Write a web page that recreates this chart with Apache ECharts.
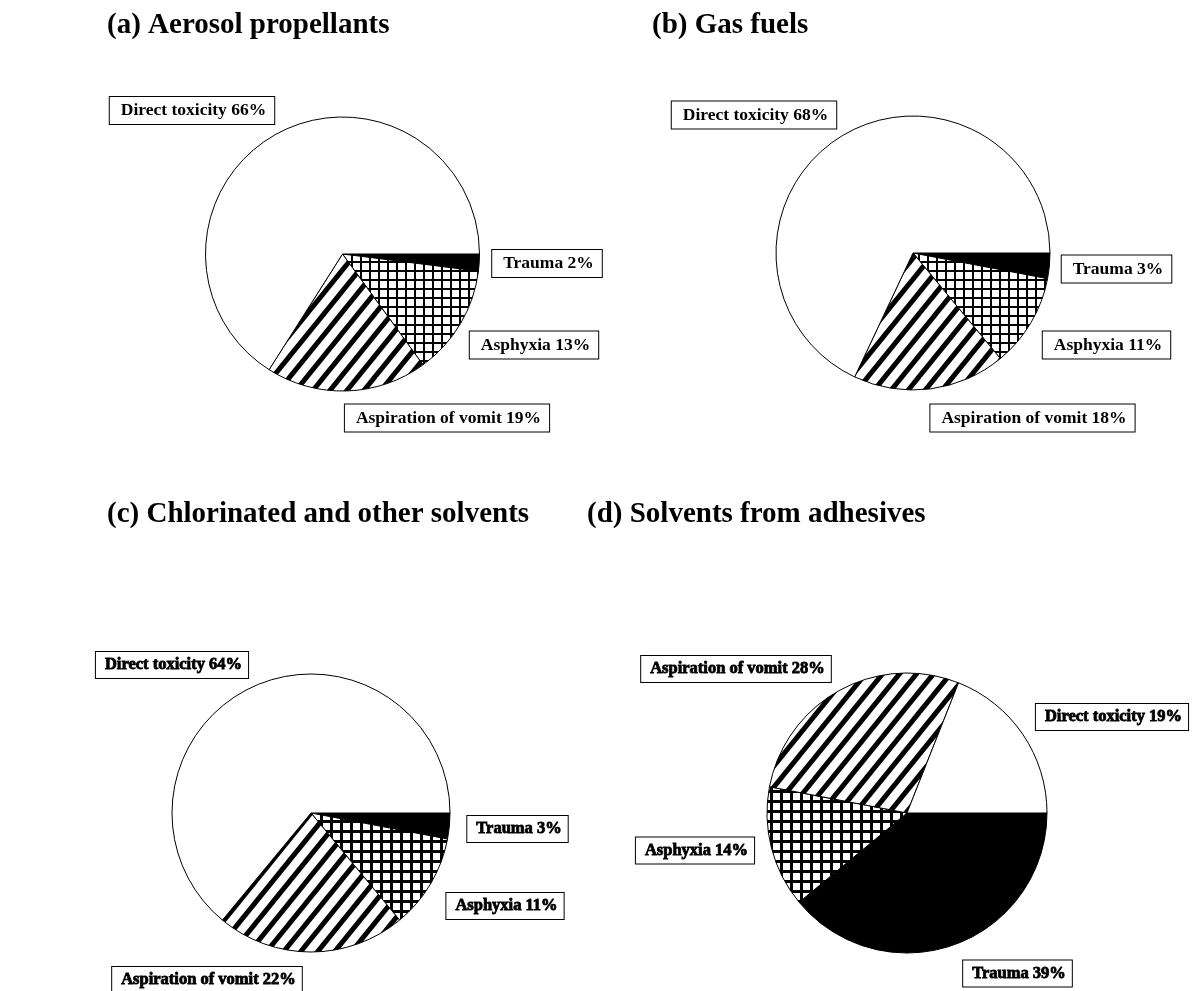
<!DOCTYPE html>
<html>
<head>
<meta charset="utf-8">
<script src="https://cdn.jsdelivr.net/npm/echarts@6/dist/echarts.min.js"></script>
<style>
  html, body { margin: 0; padding: 0; background: #fff; }
  #chart { width: 1194px; height: 991px; }
</style>
</head>
<body>
<div id="chart"></div>
<script>
// Causes of death, in drawing order clockwise from 3 o'clock
const categories = ['Trauma', 'Asphyxia', 'Aspiration of vomit', 'Direct toxicity'];

// Panel headings
const panelTitles = [
  '(a) Aerosol propellants',
  '(b) Gas fuels',
  '(c) Chlorinated and other solvents',
  '(d) Solvents from adhesives'
];

// Percentages per panel, same order as categories
const aerosolValues     = [2, 13, 19, 66];
const gasFuelValues     = [3, 11, 18, 68];
const chlorinatedValues = [3, 11, 22, 64];
const adhesiveValues    = [39, 14, 28, 19];

const panelValues = [aerosolValues, gasFuelValues, chlorinatedValues, adhesiveValues];

// ---- layout (pixels) ----
const panelLayout = [
  { center: [342.5, 254], radius: 137, title: [107, 11], hatch: 9,  hatchLine: 2, heavy: false,
    labels: [[547, 263.5], [534, 345], [447, 418], [192, 110.5]] },
  { center: [913, 253],   radius: 137, title: [652, 11], hatch: 9,  hatchLine: 2, heavy: false,
    labels: [[1116.5, 269], [1106.5, 345], [1032.5, 418], [754, 115]] },
  { center: [311, 813],   radius: 139, title: [107, 500], hatch: 10, hatchLine: 3, heavy: true,
    labels: [[517.5, 829], [505, 906], [207, 980], [172, 665]] },
  { center: [907, 813],   radius: 140, title: [587, 500], hatch: 10, hatchLine: 3, heavy: true,
    labels: [[1017.5, 973.5], [695, 850.5], [736, 669], [1112, 717]] }
];

const serif = "'Liberation Serif', 'Times New Roman', Times, serif";

// Square grid fill
function crossHatch(size, line) {
  const c = document.createElement('canvas');
  c.width = size; c.height = size;
  const g = c.getContext('2d');
  g.fillStyle = '#fff'; g.fillRect(0, 0, size, size);
  g.fillStyle = '#000';
  g.fillRect(0, 0, line, size);
  g.fillRect(0, 0, size, line);
  return { image: c, repeat: 'repeat' };
}

// Thick diagonal stripes rising to the right; each stripe is drawn well past
// the tile edges so neighbouring tiles join without seams
function stripes(w, h, line) {
  const c = document.createElement('canvas');
  c.width = w; c.height = h;
  const g = c.getContext('2d');
  g.fillStyle = '#fff'; g.fillRect(0, 0, w, h);
  g.strokeStyle = '#000'; g.lineWidth = line;
  [-w, 0, w].forEach(function (dx) {
    g.beginPath(); g.moveTo(dx - w, 2 * h); g.lineTo(dx + 2 * w, -h); g.stroke();
  });
  return { image: c, repeat: 'repeat' };
}

function fillsFor(layout) {
  return [
    '#000',
    crossHatch(layout.hatch, layout.hatchLine),
    stripes(17, 21, 5),
    '#fff'
  ];
}

const chart = echarts.init(document.getElementById('chart'), null, { renderer: 'canvas' });

const titles = panelTitles.map(function (text, i) {
  return {
    text: text,
    left: panelLayout[i].title[0],
    top: panelLayout[i].title[1],
    padding: 0,
    textStyle: { fontFamily: serif, fontWeight: 'bold', fontSize: 29, color: '#000' }
  };
});

const series = panelValues.map(function (values, i) {
  const layout = panelLayout[i];
  const fills = fillsFor(layout);
  return {
    type: 'pie',
    center: layout.center,
    radius: layout.radius,
    startAngle: 0,
    clockwise: true,
    avoidLabelOverlap: false,
    silent: true,
    animation: false,
    emphasis: { disabled: true },
    itemStyle: { borderColor: '#000', borderWidth: 1 },
    data: categories.map(function (name, k) {
      return { name: name, value: values[k], itemStyle: { color: fills[k] } };
    }),
    label: {
      show: true,
      position: 'outside',
      formatter: function (p) { return p.name + ' ' + p.value + '%'; },
      fontFamily: serif,
      fontWeight: 'bold',
      fontSize: layout.heavy ? 16.5 : 17.5,
      lineHeight: 18,
      color: '#000',
      textBorderColor: layout.heavy ? '#000' : 'transparent',
      textBorderWidth: layout.heavy ? 0.8 : 0,
      backgroundColor: '#fff',
      borderColor: '#000',
      borderWidth: 1,
      borderRadius: 0,
      padding: layout.heavy ? [4, 6, 4, 9] : [5, 8, 4, 11]
    },
    labelLine: { show: false },
    labelLayout: function (p) {
      const pos = layout.labels[p.dataIndex];
      return { x: pos[0], y: pos[1], align: 'center', verticalAlign: 'middle' };
    }
  };
});

chart.setOption({
  backgroundColor: '#fff',
  animation: false,
  title: titles,
  series: series
});
</script>
</body>
</html>
